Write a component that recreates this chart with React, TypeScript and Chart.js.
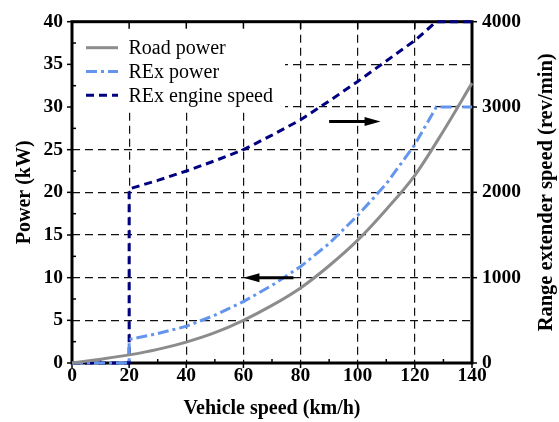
import React, { useEffect, useRef } from 'react';
import { Chart, registerables } from 'chart.js';

Chart.register(...registerables);

// ---- data ----
const roadSpeed = [0, 10, 20, 30, 40, 50, 60, 70, 80, 90, 100, 110, 120, 130, 140];
const roadPower = [0, 0.45, 0.95, 1.6, 2.45, 3.55, 5.0, 6.75, 8.8, 11.4, 14.4, 18.0, 22.0, 27.2, 32.8];

const rexSpeed = [0, 20, 20, 30, 40, 50, 60, 70, 80, 90, 100, 110, 120, 127.5, 140];
const rexPower = [0, 0, 2.75, 3.45, 4.3, 5.6, 7.2, 9.1, 11.3, 14.0, 17.3, 21.0, 25.6, 30, 30];

const engineSpeedX = [0, 20, 20, 30, 40, 50, 60, 70, 80, 90, 100, 110, 120, 127.5, 140];
const engineRpm = [0, 0, 2040, 2140, 2250, 2370, 2500, 2670, 2850, 3070, 3300, 3540, 3780, 4000, 4000];

const seriesLabels = ['Road power', 'REx power', 'REx engine speed'];
const xTitle = 'Vehicle speed (km/h)';
const yTitle = 'Power (kW)';
const y2Title = 'Range extender speed (rev/min)';

// arrow annotations (vehicle speed from -> to, at power level)
const arrowFrom = [77.5, 90];
const arrowTo = [60, 108];
const arrowAt = [10, 28.3];

const FONT = '"Liberation Serif", "Times New Roman", serif';

const decor = {
  id: 'decor',
  beforeDatasetsDraw(chart: any) {
    const { ctx, chartArea: a, scales } = chart;
    const x = scales.x, y = scales.y, y2 = scales.y2;
    ctx.save();
    // legend box
    ctx.fillStyle = '#fff';
    ctx.fillRect(a.left, a.top, 213, 89);
    chart.data.datasets.forEach((ds: any, i: number) => {
      const yy = a.top + 26 + i * 23.8;
      ctx.strokeStyle = ds.borderColor;
      ctx.lineWidth = ds.borderWidth;
      ctx.setLineDash(ds.borderDash || []);
      ctx.beginPath();
      ctx.moveTo(a.left + 14, yy);
      ctx.lineTo(a.left + 46, yy);
      ctx.stroke();
      ctx.setLineDash([]);
      ctx.fillStyle = '#000';
      ctx.font = '20px ' + FONT;
      ctx.textAlign = 'left';
      ctx.textBaseline = 'alphabetic';
      ctx.fillText(ds.label, a.left + 56.5, yy + 6.7);
    });

    // tick marks
    ctx.strokeStyle = '#000';
    ctx.lineWidth = 1.5;
    ctx.setLineDash([]);
    const line = (x1: number, y1: number, x2: number, y2p: number) => {
      ctx.beginPath();
      ctx.moveTo(x1, y1);
      ctx.lineTo(x2, y2p);
      ctx.stroke();
    };
    const xt = x.ticks.map((t: any) => t.value);
    xt.forEach((v: number, i: number) => {
      const px = x.getPixelForValue(v);
      line(px, a.bottom, px, a.bottom + 5);
      line(px, a.top, px, a.top + 7);
      if (i < xt.length - 1) {
        const pm = x.getPixelForValue((v + xt[i + 1]) / 2);
        line(pm, a.bottom, pm, a.bottom - 4);
      }
    });
    const yt = y.ticks.map((t: any) => t.value);
    yt.forEach((v: number, i: number) => {
      const py = y.getPixelForValue(v);
      line(a.left - 5, py, a.left, py);
      if (i < yt.length - 1) {
        const pm = y.getPixelForValue((v + yt[i + 1]) / 2);
        line(a.left, pm, a.left + 4, pm);
      }
    });
    y2.ticks.forEach((t: any) => {
      const py = y2.getPixelForValue(t.value);
      line(a.right, py, a.right + 5, py);
    });

    // frame
    ctx.lineWidth = 3;
    ctx.strokeRect(a.left, a.top, a.right - a.left, a.bottom - a.top);
    ctx.restore();
  },
  afterDatasetsDraw(chart: any) {
    const { ctx, chartArea: a, scales } = chart;
    const x = scales.x, y = scales.y;
    ctx.save();
    ctx.strokeStyle = '#000';
    ctx.fillStyle = '#000';
    ctx.lineWidth = 3;
    arrowFrom.forEach((f: number, i: number) => {
      const x1 = x.getPixelForValue(f);
      const x2 = x.getPixelForValue(arrowTo[i]);
      const py = y.getPixelForValue(arrowAt[i]);
      const dir = x2 > x1 ? 1 : -1;
      const head = 16;
      ctx.beginPath();
      ctx.moveTo(x1, py);
      ctx.lineTo(x2 - dir * head * 0.8, py);
      ctx.stroke();
      ctx.beginPath();
      ctx.moveTo(x2, py);
      ctx.lineTo(x2 - dir * head, py - 4.5);
      ctx.lineTo(x2 - dir * head, py + 4.5);
      ctx.closePath();
      ctx.fill();
    });
    // right axis title (reads bottom-to-top)
    ctx.translate(a.right + 75, (a.top + a.bottom) / 2);
    ctx.rotate(-Math.PI / 2);
    ctx.font = 'bold 20.5px ' + FONT;
    ctx.textAlign = 'center';
    ctx.textBaseline = 'middle';
    ctx.fillText(y2Title, 0, 0);
    ctx.restore();
  },
};

export default function App() {
  const ref = useRef<HTMLCanvasElement | null>(null);
  useEffect(() => {
    document.body.style.margin = '0';
    const canvas = ref.current!;
    const tickFont = { family: FONT, size: 19.5, weight: 'bold' as const };
    const titleFont = { family: FONT, size: 20, weight: 'bold' as const };
    const gridOpts = { color: '#111', lineWidth: 1.2, drawTicks: false };
    const plain = (v: any) => String(v);
    const chart = new Chart(canvas, {
      type: 'line',
      data: {
        datasets: [
          {
            label: seriesLabels[0],
            data: roadSpeed.map((s, i) => ({ x: s, y: roadPower[i] })),
            borderColor: '#8c8c8c',
            borderWidth: 3,
            pointRadius: 0,
            cubicInterpolationMode: 'monotone',
            yAxisID: 'y',
            clip: false as any,
            fill: false,
          },
          {
            label: seriesLabels[1],
            data: rexSpeed.map((s, i) => ({ x: s, y: rexPower[i] })),
            borderColor: '#6495ed',
            borderDash: [11, 4, 3, 4],
            borderWidth: 3,
            pointRadius: 0,
            tension: 0,
            yAxisID: 'y',
            clip: false as any,
            fill: false,
          },
          {
            label: seriesLabels[2],
            data: engineSpeedX.map((s, i) => ({ x: s, y: engineRpm[i] })),
            borderColor: '#000080',
            borderDash: [8, 5],
            borderWidth: 3,
            pointRadius: 0,
            tension: 0,
            yAxisID: 'y2',
            clip: false as any,
            fill: false,
          },
        ],
      },
      options: {
        responsive: false,
        animation: false,
        events: [],
        layout: { padding: { top: 16, left: 0, right: 0, bottom: 0 } },
        plugins: { legend: { display: false }, tooltip: { enabled: false } },
        scales: {
          x: {
            type: 'linear',
            position: 'bottom',
            min: 0,
            max: 140,
            ticks: { stepSize: 20, padding: 1, color: '#000', font: tickFont, callback: plain },
            grid: gridOpts,
            border: { display: false, dash: [8, 5] },
            title: { display: true, text: xTitle, color: '#000', font: titleFont, padding: { top: 0, bottom: 1 } },
            afterFit: (s: any) => { s.height = 59; },
          },
          y: {
            type: 'linear',
            position: 'left',
            min: 0,
            max: 40,
            ticks: { stepSize: 5, padding: 9, color: '#000', font: tickFont, callback: plain },
            grid: gridOpts,
            border: { display: false, dash: [8, 5] },
            title: { display: true, text: yTitle, color: '#000', font: titleFont, padding: { top: 13, bottom: 0 } },
            afterFit: (s: any) => { s.width = 72; },
          },
          y2: {
            type: 'linear',
            position: 'right',
            min: 0,
            max: 4000,
            ticks: { stepSize: 1000, padding: 10, color: '#000', font: tickFont, callback: plain },
            grid: { display: false, drawTicks: false },
            border: { display: false },
            afterFit: (s: any) => { s.width = 87; },
          },
        },
      } as any,
      plugins: [decor],
    });
    return () => chart.destroy();
  }, []);
  return (
    <div style={{ width: 559, height: 422 }}>
      <canvas ref={ref} width={559} height={422} style={{ display: 'block', width: 559, height: 422 }} />
    </div>
  );
}
